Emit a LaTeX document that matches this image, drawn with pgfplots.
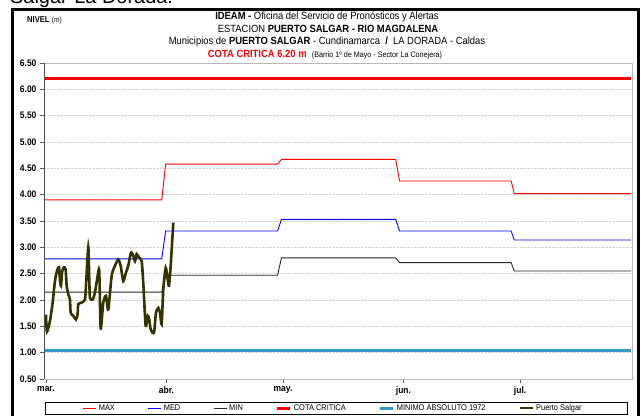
\documentclass[border=0pt]{standalone}
\usepackage{pgfplots}
\pgfplotsset{compat=1.18}
\usepackage{fontspec}
\setmainfont{Liberation Sans}
\newfontfamily\narrow[FakeStretch=0.9]{Liberation Sans}
\definecolor{psal}{HTML}{333300}
\definecolor{minabs}{HTML}{3399CC}
\begin{document}
\begin{tikzpicture}
\useasboundingbox (0bp,0bp) rectangle (641bp,416bp);
\node[anchor=base west, inner sep=0pt, font=\fontsize{20}{20}\selectfont] at (10bp,412bp) {Salgar-La Dorada.};
\draw[line width=3bp] (12bp,-10bp) -- (12bp,406.5bp) -- (638.5bp,406.5bp) -- (638.5bp,-10bp);
\begin{axis}[
  at={(44bp,37bp)}, anchor=south west,
  scale only axis, width=588bp, height=316bp,
  xmin=-0.5, xmax=150.8, ymin=0.5, ymax=6.5,
  ytick={0.5,1,1.5,2,2.5,3,3.5,4,4.5,5,5.5,6,6.5},
  xtick={0,31,61,92,122}, xticklabels={mar.,abr.,may.,jun.,jul.},
  yticklabel style={/pgf/number format/.cd, fixed, fixed zerofill, precision=2},
  /pgf/number format/assume math mode=true,
  every tick label/.append style={font=\narrow\bfseries\fontsize{9.5}{10}\selectfont},
  xtick pos=left, ytick pos=left, tick align=outside,
  major tick length=4bp,
  tick style={gray!70!black, line width=0.8bp},
  ymajorgrids, grid style={gray!35, densely dotted, line width=0.8bp},
  axis line style={gray!55},
  legend columns=6,
  legend style={draw=none, fill=none, at={(axis description cs:0.492,-0.092)}, anchor=center,
    font=\narrow\fontsize{8.3}{9}\selectfont,
    /tikz/every even column/.append style={column sep=31bp}},
  legend image code/.code={\draw[#1] (0bp,0bp) -- (13bp,0bp);},
]
\addplot[red, line width=0.9bp, no marks] coordinates {
(-0.5,3.90) (29.8,3.90) (30.8,4.58) (59.6,4.58) (60.6,4.67) (90.0,4.67) (91.0,4.26) (119.7,4.26) (120.5,4.02) (150.6,4.02)};
\addlegendentry{MAX}
\addplot[blue, line width=0.9bp, no marks] coordinates {
(-0.5,2.78) (29.8,2.78) (30.8,3.31) (59.6,3.31) (60.6,3.53) (90.0,3.53) (91.0,3.31) (119.7,3.31) (120.5,3.14) (150.6,3.14)};
\addlegendentry{MED}
\addplot[black!85, line width=0.9bp, no marks] coordinates {
(-0.5,2.15) (29.8,2.15) (30.8,2.47) (59.6,2.47) (60.6,2.80) (90.0,2.80) (91.0,2.71) (119.7,2.71) (120.5,2.55) (150.6,2.55)};
\addlegendentry{MIN}
\addplot[red, line width=3bp, no marks] coordinates {(-0.5,6.20) (150.6,6.20)};
\addlegendentry{COTA CRITICA}
\addplot[minabs, line width=3bp, no marks] coordinates {(-0.5,1.05) (150.6,1.05)};
\addlegendentry{MINIMO ABSOLUTO 1972}
\addplot[psal, line width=2.6bp, no marks, smooth, tension=0.4] coordinates {
(0.0,1.72) (0.26,1.40) (1.03,1.60) (1.72,1.95) (2.32,2.36) (2.91,2.57) (3.35,2.62) (3.6,2.39)
(3.86,2.27) (4.2,2.55) (4.63,2.62) (5.07,2.58) (5.33,2.27) (5.74,2.11) (6.18,2.01) (6.36,1.76)
(7.03,1.70) (7.72,1.63) (8.16,1.73) (8.31,1.92) (9.19,1.95) (10.04,2.01) (10.3,2.27) (10.89,3.00)
(11.15,2.39) (11.33,2.04) (12.02,2.01) (12.61,2.14) (13.31,2.46) (13.72,2.55) (14.08,1.46)
(14.75,1.95) (15.44,2.08) (16.04,1.82) (16.91,2.46) (17.76,2.65) (18.61,2.77) (19.23,2.65)
(19.9,2.36) (20.59,2.52) (21.18,2.65) (21.88,2.90) (22.47,2.84) (22.91,2.74) (23.35,2.87)
(24.02,2.80) (24.63,2.74) (25.04,2.33) (25.66,1.51) (26.18,1.70) (26.59,1.63) (26.95,1.44)
(27.8,1.38) (28.31,1.76) (28.91,1.85) (29.34,1.76) (29.78,1.54) (30.19,2.20) (30.81,2.61)
(31.33,2.39) (31.66,2.27) (32.1,2.65) (32.77,3.47)};
\addlegendentry{Puerto Salgar}
\draw[gray!60!black, line width=1bp] (rel axis cs:0,0) -- (rel axis cs:0,1);
\draw[gray!60!black, line width=1bp] (rel axis cs:0,0) -- (rel axis cs:1,0);
\end{axis}
\draw[black, line width=0.6bp] (45bp,2bp) rectangle (627bp,14bp);
\node[font=\narrow\fontsize{10.5}{12}\selectfont] at (327bp,399bp) {\textbf{IDEAM -} Oficina del Servicio de Pronósticos y Alertas};
\node[font=\narrow\fontsize{10.5}{12}\selectfont] at (328bp,387bp) {ESTACION \textbf{PUERTO SALGAR - RIO MAGDALENA}};
\node[font=\narrow\fontsize{10.5}{12}\selectfont] at (327bp,374bp) {Municipios de \textbf{PUERTO SALGAR} - Cundinamarca \ \textbf{/} \ LA DORADA - Caldas};
\node[font=\narrow\fontsize{10.5}{12}\selectfont] at (325bp,361bp) {\textcolor{red}{\textbf{COTA CRITICA 6.20 m}} \ {\fontsize{8}{9}\selectfont (Barrio 1º de Mayo - Sector La Conejera)}};
\node[anchor=west, inner sep=0pt, font=\narrow\fontsize{8.5}{9}\selectfont] at (27bp,396bp) {\textbf{NIVEL} {\fontsize{7.5}{8}\selectfont (m)}};
\end{tikzpicture}
\end{document}
